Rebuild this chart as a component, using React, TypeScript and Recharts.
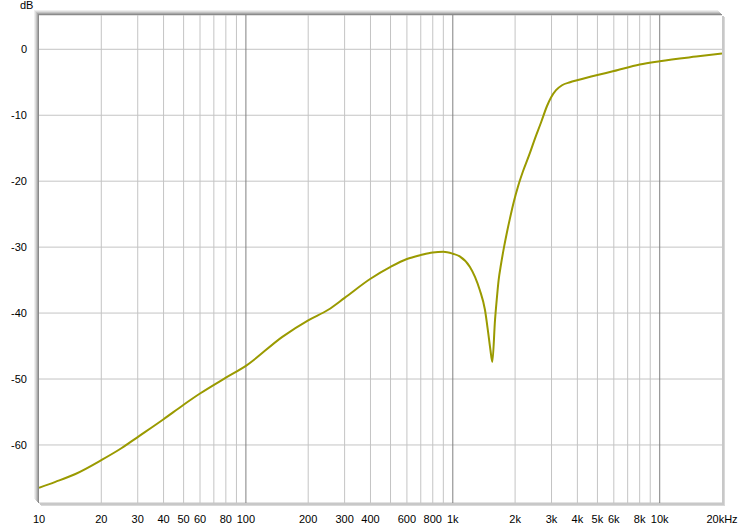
import { CartesianGrid, Line, LineChart, ReferenceLine, XAxis, YAxis } from "recharts";

const freqs = [
  10, 12, 15, 20, 25, 30, 40, 50, 60, 80, 100, 150, 200, 250, 300, 400, 500, 600, 700, 800, 900,
  1000, 1080, 1210, 1280, 1350, 1430, 1480, 1520, 1552, 1600, 1630, 1665, 1710, 1768, 1828, 1890,
  1976, 2066, 2184, 2335, 2497, 2669, 2853, 2983, 3154, 3372, 3685, 3984, 5000, 6000, 8000, 10000,
  15000, 20000,
];

const levels = [
  -66.5, -65.6, -64.4, -62.3, -60.5, -58.8, -56.1, -53.9, -52.2, -49.8, -48.0, -43.6, -41.1, -39.5,
  -37.7, -34.8, -33.0, -31.8, -31.2, -30.8, -30.7, -31.0, -31.4, -33.0, -34.5, -36.5, -39.5, -42.8,
  -45.6, -47.4, -41.0, -38.0, -35.0, -32.6, -30.0, -27.7, -25.6, -23.0, -20.8, -18.5, -16.1, -13.5,
  -11.1, -8.6, -7.3, -6.2, -5.45, -5.0, -4.7, -3.9, -3.3, -2.3, -1.8, -1.1, -0.65,
];

const xTicks = [10, 20, 30, 40, 50, 60, 80, 100, 200, 300, 400, 600, 800, 1000, 2000, 3000, 4000, 5000, 6000, 8000, 10000, 20000];
const xLabels = ["10", "20", "30", "40", "50", "60", "80", "100", "200", "300", "400", "600", "800", "1k", "2k", "3k", "4k", "5k", "6k", "8k", "10k", "20kHz"];

const gridFreqs = [
  20, 30, 40, 50, 60, 70, 80, 90, 100, 200, 300, 400, 500, 600, 700, 800, 900, 1000,
  2000, 3000, 4000, 5000, 6000, 7000, 8000, 9000, 10000,
];
const decades = [100, 1000, 10000];

const yTicks = [-60, -50, -40, -30, -20, -10, 0];

const data = freqs.map((f, i) => ({ f, db: levels[i] }));

const font = { fontFamily: "'Liberation Sans', Arial, sans-serif", fontSize: 11, fill: "#000" };

export default function App() {
  return (
    <div style={{ position: "absolute", left: 0, top: 0, width: 741, height: 527, background: "#fff" }}>
      <LineChart width={741} height={527} data={data} margin={{ top: 15, right: 19, bottom: 0, left: 0 }}>
        <CartesianGrid vertical={false} stroke="#c4c4c4" strokeDasharray="" />
        {gridFreqs.map((g) => (
          <ReferenceLine
            key={g}
            x={g}
            stroke={decades.includes(g) ? "#808080" : "#c4c4c4"}
            strokeWidth={1}
          />
        ))}
        <XAxis
          dataKey="f"
          type="number"
          scale="log"
          domain={[10, 20000]}
          ticks={xTicks}
          tickFormatter={(v) => xLabels[xTicks.indexOf(v)] ?? ""}
          axisLine={false}
          tickLine={false}
          tick={font}
          tickMargin={6}
          height={24}
          interval={0}
          allowDataOverflow
        />
        <YAxis
          type="number"
          domain={[-68.8, 5.2]}
          ticks={yTicks}
          axisLine={false}
          tickLine={false}
          tick={font}
          tickMargin={6}
          width={39}
          allowDataOverflow
        />
        <Line
          dataKey="db"
          type="monotone"
          stroke="#9a9a00"
          strokeWidth={2}
          dot={false}
          isAnimationActive={false}
        />
      </LineChart>
      <div
        style={{
          position: "absolute",
          left: 38,
          top: 14,
          width: 684,
          height: 489,
          boxSizing: "border-box",
          borderLeft: "1px solid #8a8a8a",
          borderTop: "1px solid #8a8a8a",
          boxShadow: "-1px -1px 0 #a8a8a8, -2px -2px 0 #c4c4c4, -3px -3px 0 #dcdcdc, -4px -4px 0 #eeeeee, 2px 2px 0 #c8c8c8, 3px 3px 0 #d8d8d8",
          pointerEvents: "none",
        }}
      />
      <div
        style={{
          position: "absolute",
          left: 20,
          top: -1,
          fontFamily: "'Liberation Sans', Arial, sans-serif",
          fontSize: 11,
          color: "#000",
        }}
      >
        dB
      </div>
    </div>
  );
}
